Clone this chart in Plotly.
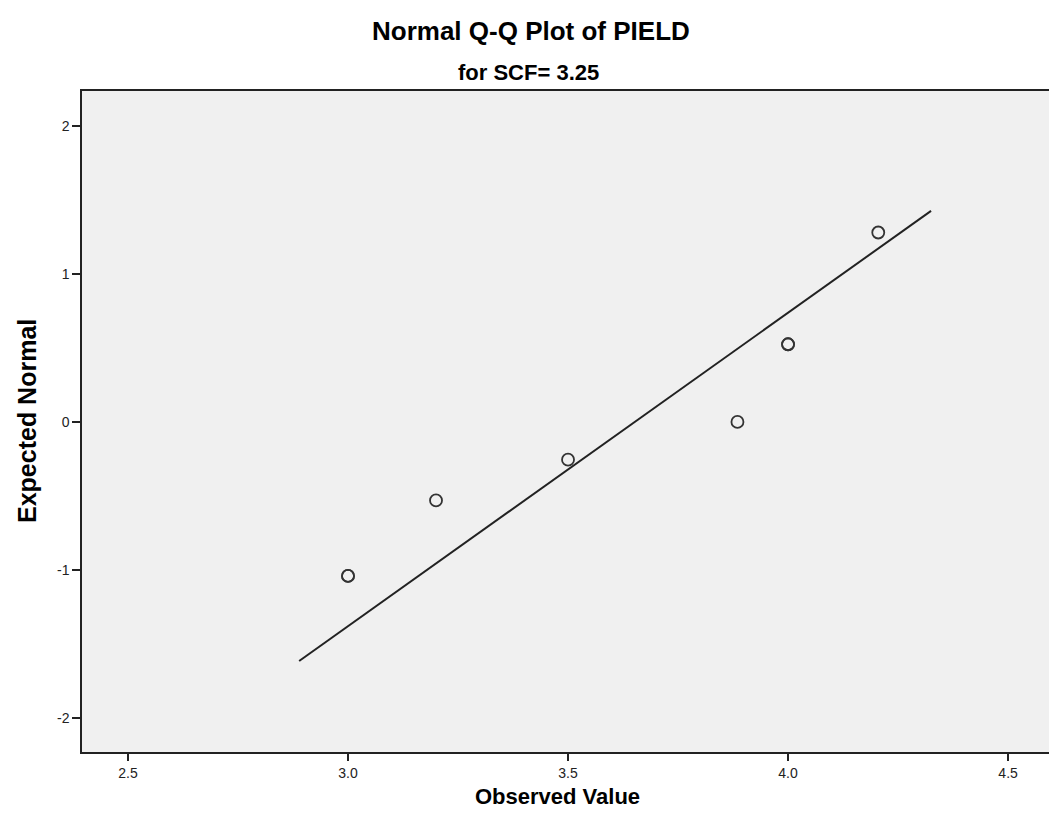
import plotly.graph_objects as go

# Observed values and expected normal quantiles
observed = [3.0, 3.0, 3.2, 3.5, 3.885, 4.0, 4.0, 4.205]
expected = [-1.04, -1.04, -0.53, -0.255, 0.0, 0.525, 0.525, 1.28]

# Reference line endpoints
line_x = [2.889, 4.325]
line_y = [-1.615, 1.426]

x_ticks = [2.5, 3.0, 3.5, 4.0, 4.5]
x_tick_labels = ["2.5", "3.0", "3.5", "4.0", "4.5"]
y_ticks = [-2, -1, 0, 1, 2]
y_tick_labels = ["-2", "-1", "0", "1", "2"]

W, H = 1049, 827
L, R, T, B = 82, 0, 91, 75

fig = go.Figure()
fig.add_trace(go.Scatter(x=line_x, y=line_y, mode="lines",
                         line=dict(color="#222222", width=2), showlegend=False,
                         hoverinfo="skip"))
fig.add_trace(go.Scatter(x=observed, y=expected, mode="markers",
                         marker=dict(symbol="circle-open", size=12, color="#333333",
                                     line=dict(width=1.8, color="#333333")),
                         showlegend=False))

tickfont = dict(family="Liberation Sans Narrow, Liberation Sans, Arial", size=14, color="#222222")

fig.update_layout(
    width=W, height=H,
    margin=dict(l=L, r=R, t=T, b=B),
    paper_bgcolor="white",
    plot_bgcolor="#f0f0f0",
    font=dict(family="Liberation Sans, Arial", color="black"),
    xaxis=dict(range=[2.3955, 4.593], tickvals=x_ticks, ticktext=x_tick_labels,
               showgrid=False, zeroline=False, showline=True, linecolor="#222222",
               linewidth=1.5, mirror=True, ticks="outside", ticklen=7, tickwidth=1.5,
               tickcolor="#222222", tickfont=tickfont),
    yaxis=dict(range=[-2.2297, 2.236], tickvals=y_ticks, ticktext=y_tick_labels,
               showgrid=False, zeroline=False, showline=True, linecolor="#222222",
               linewidth=1.5, mirror=False, ticks="outside", ticklen=8, tickwidth=1.5,
               tickcolor="#222222", tickfont=tickfont),
    annotations=[
        dict(text="<b>Normal Q-Q Plot of PIELD</b>", xref="paper", yref="paper",
             x=(531 - L) / (W - L - R), y=1 + (T - 31) / (H - T - B),
             xanchor="center", yanchor="middle", showarrow=False,
             font=dict(size=26, family="Liberation Sans, Arial", color="black")),
        dict(text="<b>for SCF= 3.25</b>", xref="paper", yref="paper",
             x=(528 - L) / (W - L - R), y=1 + (T - 73) / (H - T - B),
             xanchor="center", yanchor="middle", showarrow=False,
             font=dict(size=22, family="Liberation Sans, Arial", color="black")),
        dict(text="<b>Observed Value</b>", xref="paper", yref="paper",
             x=(557 - L) / (W - L - R), y=-(796 - (H - B)) / (H - T - B),
             xanchor="center", yanchor="middle", showarrow=False,
             font=dict(size=22, family="Liberation Sans Narrow, Liberation Sans, Arial", color="black")),
        dict(text="<b>Expected Normal</b>", xref="paper", yref="paper",
             x=-(L - 27) / (W - L - R), y=(H - B - 421) / (H - T - B),
             xanchor="center", yanchor="middle", showarrow=False, textangle=-90,
             font=dict(size=25, family="Liberation Sans Narrow, Liberation Sans, Arial", color="black")),
    ],
)

fig.write_html("out.html", config={"displayModeBar": False},
               post_script="document.body.style.margin='0px';")
